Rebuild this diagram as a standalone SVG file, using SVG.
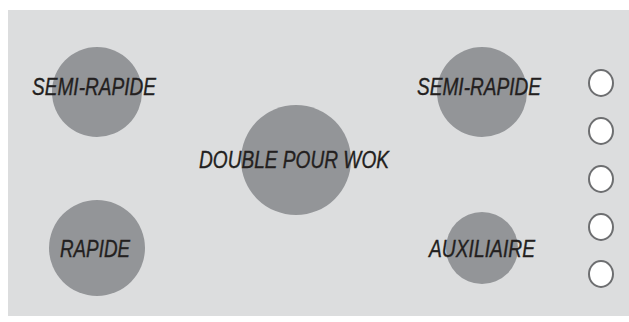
<svg xmlns="http://www.w3.org/2000/svg" width="629" height="322" viewBox="0 0 629 322">
<style>
.bg{fill:#dcddde}
.burner{fill:#939598}
.knob{fill:#ffffff;stroke:#6d6e70;stroke-width:2}
.lbl{font-family:"Liberation Sans",Arial,sans-serif;font-style:italic;font-size:23.5px;fill:#231f20;stroke:#231f20;stroke-width:0.35}
</style>
<rect class="bg" x="8" y="10" width="621" height="306"/>
<g id="burner-semi-rapide-left">
<ellipse class="burner" cx="97" cy="92" rx="45" ry="45"/>
<text class="lbl" x="32" y="95" textLength="124" lengthAdjust="spacingAndGlyphs">SEMI-RAPIDE</text>
</g>
<g id="burner-semi-rapide-right">
<ellipse class="burner" cx="482" cy="92" rx="45" ry="45"/>
<text class="lbl" x="417" y="95" textLength="124" lengthAdjust="spacingAndGlyphs">SEMI-RAPIDE</text>
</g>
<g id="burner-wok">
<ellipse class="burner" cx="296" cy="160" rx="55" ry="55"/>
<text class="lbl" x="199" y="168" textLength="190" lengthAdjust="spacingAndGlyphs">DOUBLE POUR WOK</text>
</g>
<g id="burner-rapide">
<ellipse class="burner" cx="97" cy="248" rx="48" ry="48"/>
<text class="lbl" x="60" y="257" textLength="70" lengthAdjust="spacingAndGlyphs">RAPIDE</text>
</g>
<g id="burner-auxiliaire">
<ellipse class="burner" cx="482" cy="248" rx="36" ry="36"/>
<text class="lbl" x="429" y="257" textLength="106" lengthAdjust="spacingAndGlyphs">AUXILIAIRE</text>
</g>
<g id="knobs">
<ellipse class="knob" cx="601" cy="83" rx="12" ry="13"/>
<ellipse class="knob" cx="601" cy="131" rx="12" ry="13"/>
<ellipse class="knob" cx="601" cy="179" rx="12" ry="13"/>
<ellipse class="knob" cx="601" cy="227" rx="12" ry="13"/>
<ellipse class="knob" cx="601" cy="274" rx="12" ry="13"/>
</g>
<g id="connectors"/>
</svg>
